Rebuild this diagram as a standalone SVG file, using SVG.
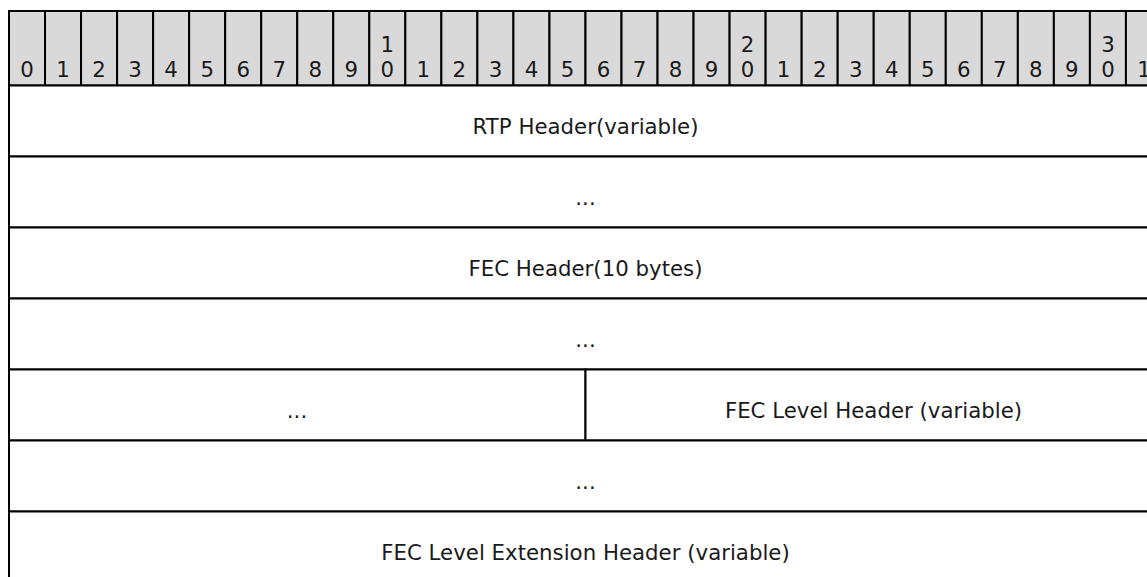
<svg xmlns="http://www.w3.org/2000/svg" width="1147" height="577" viewBox="0 0 1147 577">
<style>
.hdr{fill:#d9d9d9;stroke:#000;stroke-width:2}
.cell{fill:#fff;stroke:#000;stroke-width:2}
.t{font-family:"DejaVu Sans","Liberation Sans",sans-serif;font-size:21.3px;fill:#1a1a1a;text-anchor:middle}
</style>
<rect x="0" y="0" width="1147" height="577" fill="#fff"/>
<g id="header">
<rect class="hdr" x="9" y="11" width="36.03" height="74.5"/><text class="t" x="27" y="77">0</text>
<rect class="hdr" x="45.03" y="11" width="36.03" height="74.5"/><text class="t" x="63.05" y="77">1</text>
<rect class="hdr" x="81.06" y="11" width="36.03" height="74.5"/><text class="t" x="99.08" y="77">2</text>
<rect class="hdr" x="117.09" y="11" width="36.03" height="74.5"/><text class="t" x="135.11" y="77">3</text>
<rect class="hdr" x="153.12" y="11" width="36.03" height="74.5"/><text class="t" x="171.14" y="77">4</text>
<rect class="hdr" x="189.15" y="11" width="36.03" height="74.5"/><text class="t" x="207.17" y="77">5</text>
<rect class="hdr" x="225.18" y="11" width="36.03" height="74.5"/><text class="t" x="243.2" y="77">6</text>
<rect class="hdr" x="261.21" y="11" width="36.03" height="74.5"/><text class="t" x="279.23" y="77">7</text>
<rect class="hdr" x="297.24" y="11" width="36.03" height="74.5"/><text class="t" x="315.26" y="77">8</text>
<rect class="hdr" x="333.27" y="11" width="36.03" height="74.5"/><text class="t" x="351.29" y="77">9</text>
<rect class="hdr" x="369.3" y="11" width="36.03" height="74.5"/><text class="t" x="387.32" y="52">1</text><text class="t" x="387.32" y="77">0</text>
<rect class="hdr" x="405.33" y="11" width="36.03" height="74.5"/><text class="t" x="423.35" y="77">1</text>
<rect class="hdr" x="441.36" y="11" width="36.03" height="74.5"/><text class="t" x="459.38" y="77">2</text>
<rect class="hdr" x="477.39" y="11" width="36.03" height="74.5"/><text class="t" x="495.41" y="77">3</text>
<rect class="hdr" x="513.42" y="11" width="36.03" height="74.5"/><text class="t" x="531.44" y="77">4</text>
<rect class="hdr" x="549.45" y="11" width="36.03" height="74.5"/><text class="t" x="567.47" y="77">5</text>
<rect class="hdr" x="585.48" y="11" width="36.03" height="74.5"/><text class="t" x="603.5" y="77">6</text>
<rect class="hdr" x="621.51" y="11" width="36.03" height="74.5"/><text class="t" x="639.53" y="77">7</text>
<rect class="hdr" x="657.54" y="11" width="36.03" height="74.5"/><text class="t" x="675.56" y="77">8</text>
<rect class="hdr" x="693.57" y="11" width="36.03" height="74.5"/><text class="t" x="711.59" y="77">9</text>
<rect class="hdr" x="729.6" y="11" width="36.03" height="74.5"/><text class="t" x="747.62" y="52">2</text><text class="t" x="747.62" y="77">0</text>
<rect class="hdr" x="765.63" y="11" width="36.03" height="74.5"/><text class="t" x="783.65" y="77">1</text>
<rect class="hdr" x="801.66" y="11" width="36.03" height="74.5"/><text class="t" x="819.68" y="77">2</text>
<rect class="hdr" x="837.69" y="11" width="36.03" height="74.5"/><text class="t" x="855.71" y="77">3</text>
<rect class="hdr" x="873.72" y="11" width="36.03" height="74.5"/><text class="t" x="891.74" y="77">4</text>
<rect class="hdr" x="909.75" y="11" width="36.03" height="74.5"/><text class="t" x="927.77" y="77">5</text>
<rect class="hdr" x="945.78" y="11" width="36.03" height="74.5"/><text class="t" x="963.8" y="77">6</text>
<rect class="hdr" x="981.81" y="11" width="36.03" height="74.5"/><text class="t" x="999.83" y="77">7</text>
<rect class="hdr" x="1017.84" y="11" width="36.03" height="74.5"/><text class="t" x="1035.86" y="77">8</text>
<rect class="hdr" x="1053.87" y="11" width="36.03" height="74.5"/><text class="t" x="1071.89" y="77">9</text>
<rect class="hdr" x="1089.9" y="11" width="36.03" height="74.5"/><text class="t" x="1107.92" y="52">3</text><text class="t" x="1107.92" y="77">0</text>
<rect class="hdr" x="1125.93" y="11" width="36.03" height="74.5"/><text class="t" x="1143.95" y="77">1</text>
</g>
<g id="rtp-header"><rect class="cell" x="9" y="85.5" width="1153" height="71"/><text class="t" x="585.5" y="134">RTP Header(variable)</text></g>
<g id="row-dots-1"><rect class="cell" x="9" y="156.5" width="1153" height="71"/><text class="t" x="585.5" y="205">...</text></g>
<g id="fec-header"><rect class="cell" x="9" y="227.5" width="1153" height="71"/><text class="t" x="585.5" y="276">FEC Header(10 bytes)</text></g>
<g id="row-dots-2"><rect class="cell" x="9" y="298.5" width="1153" height="71"/><text class="t" x="585.5" y="347">...</text></g>
<g id="row-dots-3"><rect class="cell" x="9" y="369.5" width="576.5" height="71"/><text class="t" x="297" y="418">...</text></g>
<g id="fec-level-header"><rect class="cell" x="585.5" y="369.5" width="576.5" height="71"/><text class="t" x="873.5" y="418">FEC Level Header (variable)</text></g>
<g id="row-dots-4"><rect class="cell" x="9" y="440.5" width="1153" height="71"/><text class="t" x="585.5" y="489">...</text></g>
<g id="fec-level-ext-header"><rect class="cell" x="9" y="511.5" width="1153" height="71"/><text class="t" x="585.5" y="560">FEC Level Extension Header (variable)</text></g>
<g id="connectors"/>
</svg>
